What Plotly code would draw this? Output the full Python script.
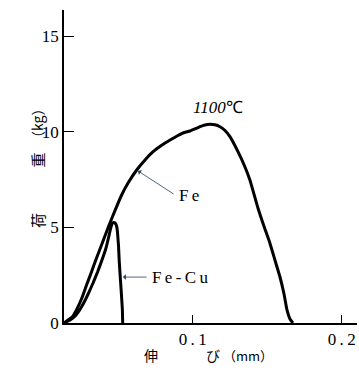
import plotly.graph_objects as go

# Data (elongation in mm, load in kg)
fe_x = [0.0136, 0.0163, 0.0193, 0.0223, 0.0256, 0.0285, 0.0321, 0.0352, 0.0388, 0.0421,
        0.0458, 0.0523, 0.0566, 0.0624, 0.0680, 0.0734, 0.0794, 0.0848, 0.0895, 0.0935,
        0.0982, 0.1015, 0.1049, 0.1082, 0.1116, 0.1149, 0.1183, 0.1217, 0.1250, 0.1304,
        0.1351, 0.1384, 0.1438, 0.1478, 0.1518, 0.1552, 0.1586, 0.1613, 0.1633, 0.1653, 0.1673]
fe_y = [0.0, 0.157, 0.330, 0.732, 1.307, 1.934, 2.681, 3.345, 4.077, 4.757,
        5.489, 6.691, 7.318, 7.998, 8.521, 8.955, 9.305, 9.566, 9.775, 9.932,
        10.036, 10.141, 10.261, 10.350, 10.387, 10.360, 10.261, 10.062, 9.738, 8.954,
        8.155, 7.475, 6.011, 5.070, 4.182, 3.293, 2.404, 1.516, 0.680, 0.209, 0.0]

fecu_x = [0.0136, 0.0177, 0.0217, 0.0257, 0.0295, 0.0331, 0.0362, 0.0391, 0.0418, 0.0436,
          0.0448, 0.0458, 0.0468, 0.0479, 0.0489, 0.0495, 0.0502, 0.0507, 0.0515, 0.0523,
          0.0528, 0.0530]
fecu_y = [0.0, 0.157, 0.418, 0.888, 1.464, 2.091, 2.681, 3.293, 3.920, 4.495,
          4.913, 5.175, 5.254, 5.227, 5.070, 4.757, 4.025, 3.207, 2.248, 1.307,
          0.680, 0.0]

y_tickvals = [0, 5, 10, 15]
y_ticktext = ["0", "5", "10", "15"]
x_tickvals = [0.1, 0.2]
x_ticktext = ["0\u2009.\u20091", "0\u2009.\u20092"]

serif = "'Liberation Serif', 'Times New Roman', Times, serif"
cjk = "'Noto Sans CJK JP', sans-serif"

fig = go.Figure()
fig.add_trace(go.Scatter(x=fe_x, y=fe_y, mode="lines",
                         line=dict(color="black", width=3, shape="spline", smoothing=0.5),
                         showlegend=False, hoverinfo="skip"))
fig.add_trace(go.Scatter(x=fecu_x, y=fecu_y, mode="lines",
                         line=dict(color="black", width=3, shape="spline", smoothing=0.3),
                         showlegend=False, hoverinfo="skip"))

fig.update_layout(
    width=359, height=375,
    margin=dict(l=64, r=2, t=10, b=52),
    plot_bgcolor="white", paper_bgcolor="white",
    xaxis=dict(range=[0.0136, 0.2103], showgrid=False, zeroline=False, showline=True,
               linecolor="black", linewidth=1.5, ticks="inside", ticklen=8, tickwidth=1.2,
               tickcolor="black", tickvals=x_tickvals, ticktext=x_ticktext,
               tickfont=dict(family=serif, size=17, color="black")),
    yaxis=dict(range=[0, 16.36], showgrid=False, zeroline=False, showline=True,
               linecolor="black", linewidth=1.5, ticks="inside", ticklen=10, tickwidth=1.2,
               tickcolor="black", tickvals=y_tickvals, ticktext=y_ticktext,
               tickfont=dict(family=serif, size=17, color="black")),
)

anns = [
    dict(x=0.1171, y=11.24, xref="x", yref="y", text="<i>1100</i>℃", showarrow=False,
         font=dict(family=serif, size=17, color="black")),
    dict(x=0.0975, y=6.64, xref="x", yref="y", text="F\u2009e", showarrow=False,
         font=dict(family=serif, size=17, color="black")),
    dict(x=0.0713, y=2.40, xref="x", yref="y", text="F\u2009e\u2009-\u2009C\u2009u", showarrow=False,
         xanchor="left", font=dict(family=serif, size=17, color="black")),
    dict(x=0.0633, y=7.95, xref="x", yref="y", ax=0.0882, ay=6.69, axref="x", ayref="y",
         text="", showarrow=True, arrowhead=1, arrowsize=1.2, arrowwidth=0.8, standoff=0, startstandoff=0),
    dict(x=0.0532, y=2.40, xref="x", yref="y", ax=0.0700, ay=2.40, axref="x", ayref="y",
         text="", showarrow=True, arrowhead=1, arrowsize=1.2, arrowwidth=0.8, standoff=0, startstandoff=0),
    dict(x=-0.133, y=0.297, xref="paper", yref="paper", text="荷", textangle=-90, showarrow=False,
         font=dict(family=cjk, size=15, color="black")),
    dict(x=-0.133, y=0.521, xref="paper", yref="paper", text="重", textangle=-90, showarrow=False,
         font=dict(family=cjk, size=15, color="black")),
    dict(x=-0.133, y=0.636, xref="paper", yref="paper", text="（kg）", textangle=-90, showarrow=False,
         font=dict(family=cjk, size=14, color="black")),
    dict(x=0.266, y=-0.141, xref="paper", yref="paper", text="伸", showarrow=False,
         font=dict(family=cjk, size=14, color="black")),
    dict(x=0.509, y=-0.141, xref="paper", yref="paper", text="び", showarrow=False,
         font=dict(family=cjk, size=14, color="black")),
    dict(x=0.628, y=-0.141, xref="paper", yref="paper", text="（mm）", showarrow=False,
         font=dict(family=cjk, size=13, color="black")),
]
fig.update_layout(annotations=anns)

fig.write_html("out.html")
